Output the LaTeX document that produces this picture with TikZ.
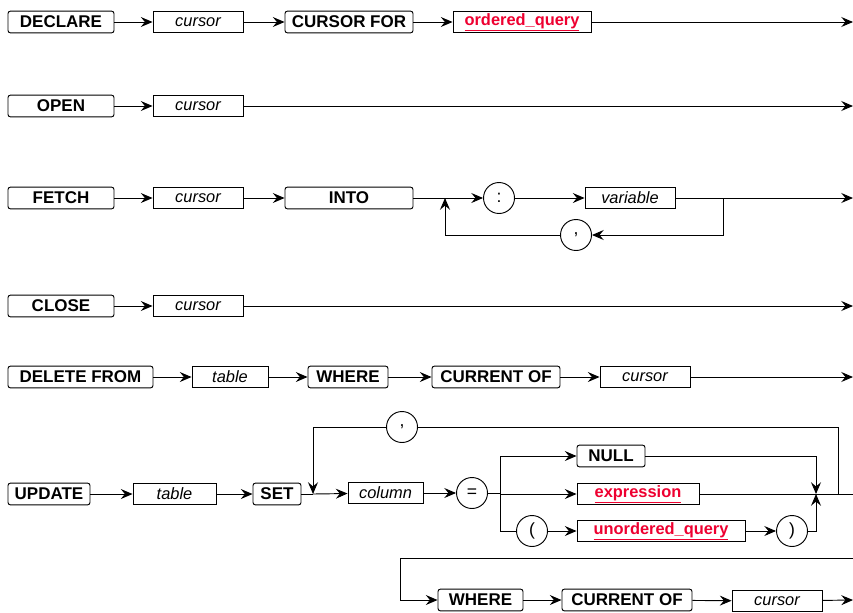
\documentclass[tikz,border=0pt]{standalone}
\usepackage{fontspec}
\setmainfont{Liberation Sans}
\usetikzlibrary{arrows.meta}
\definecolor{linkred}{RGB}{238,0,48}
\tikzset{
  kw/.style={draw,rounded corners=2pt,minimum height=0.65cm,inner sep=0pt,font=\fontsize{14.5}{17}\selectfont\bfseries},
  ph/.style={draw,minimum height=0.62cm,inner sep=0pt,font=\fontsize{14}{17}\selectfont\itshape},
  rf/.style={draw,minimum height=0.65cm,inner sep=0pt,text=linkred,font=\fontsize{14}{17}\selectfont\bfseries},
  tm/.style={draw,circle,minimum size=0.93cm,inner sep=0pt,font=\fontsize{15}{17}\selectfont},
  arr/.style={-{Stealth[length=10pt,width=8.5pt,inset=3.5pt]}},
}
\begin{document}
\begin{tikzpicture}[x=0.03cm,y=-0.03cm,line width=0.8pt]
    \useasboundingbox (0,0) rectangle (853,612);
    % DECLARE
    \node (decl) at (61,22) [kw,minimum width=3.18cm] {DECLARE};
    \node (cur1) at (198,22) [ph,minimum width=2.7cm] {cursor};
    \node (curfor) at (349,22) [kw,minimum width=3.84cm] {CURSOR FOR};
    \node (oquery) at (522,22) [rf,minimum width=4.14cm] {\underline{ordered\_query}};
    \coordinate (e1) at (853,22);
    \draw[arr] (decl) -- (cur1);
    \draw[arr] (cur1) -- (curfor);
    \draw[arr] (curfor) -- (oquery);
    \draw[arr] (oquery) -- (e1);
    % OPEN
    \node (open) at (61,106) [kw,minimum width=3.18cm] {OPEN};
    \node (cur2) at (198,106) [ph,minimum width=2.7cm] {cursor};
    \coordinate (e2) at (853,106);
    \draw[arr] (open) -- (cur2);
    \draw[arr] (cur2) -- (e2);
    % FETCH
    \node (fetch) at (61,198) [kw,minimum width=3.18cm] {FETCH};
    \node (cur3) at (198,198) [ph,minimum width=2.7cm] {cursor};
    \node (into) at (349,198) [kw,minimum width=3.84cm] {INTO};
    \coordinate (fj) at (445,198);
    \node (colon) at (499,198) [tm] {:};
    \node (var) at (630,198) [ph,minimum width=2.7cm] {variable};
    \coordinate (fr) at (723,198);
    \node (comma1) at (576,235) [tm] {,};
    \coordinate (e3) at (853,198);
    \draw[arr] (fetch) -- (cur3);
    \draw[arr] (cur3) -- (into);
    \draw (into) -- (fj);
    \draw[arr] (fj) -- (colon);
    \draw[arr] (colon) -- (var);
    \draw[arr] (var) -- (e3);
    \draw[arr] (fr) |- (comma1);
    \draw[arr] (comma1) -| (fj);
    % CLOSE
    \node (close) at (61,306) [kw,minimum width=3.18cm] {CLOSE};
    \node (cur4) at (198,306) [ph,minimum width=2.7cm] {cursor};
    \coordinate (e4) at (853,306);
    \draw[arr] (close) -- (cur4);
    \draw[arr] (cur4) -- (e4);
    % DELETE FROM
    \node (delfrom) at (80.5,377) [kw,minimum width=4.35cm] {DELETE FROM};
    \node (table1) at (230,377) [ph,minimum width=2.28cm] {table};
    \node (where1) at (348,377) [kw,minimum width=2.4cm] {WHERE};
    \node (curof1) at (496,377) [kw,minimum width=3.84cm] {CURRENT OF};
    \node (cur5) at (645,377) [ph,minimum width=2.7cm] {cursor};
    \coordinate (e5) at (853,377);
    \draw[arr] (delfrom) -- (table1);
    \draw[arr] (table1) -- (where1);
    \draw[arr] (where1) -- (curof1);
    \draw[arr] (curof1) -- (cur5);
    \draw[arr] (cur5) -- (e5);
    % UPDATE
    \node (update) at (49,494) [kw,minimum width=2.46cm] {UPDATE};
    \node (table2) at (174.5,494) [ph,minimum width=2.49cm] {table};
    \node (set) at (277,494) [kw,minimum width=1.44cm] {SET};
    \coordinate (uj) at (313,494);
    \node (column) at (385.5,493) [ph,minimum width=2.25cm] {column};
    \node (eq) at (472,493) [tm] {=};
    \coordinate (split) at (500,493);
    \node (null) at (611,456) [kw,minimum width=2.04cm] {NULL};
    \node (expr) at (638,494) [rf,minimum width=3.66cm] {\underline{expression}};
    \node (lpar) at (532,531) [tm] {(};
    \node (uquery) at (661,531) [rf,minimum width=5.04cm] {\underline{unordered\_query}};
    \node (rpar) at (792,531) [tm] {)};
    \coordinate (merge) at (816,494);
    \coordinate (uloop) at (838,494);
    \node (comma2) at (402,427) [tm] {,};
    \coordinate (e6) at (853,494);
    \draw[arr] (update) -- (table2);
    \draw[arr] (table2) -- (set);
    \draw (set) -- (uj);
    \draw[arr] (uj) -- (column);
    \draw[arr] (column) -- (eq);
    \draw (eq) -- (split);
    \draw[arr] (split) |- (null);
    \draw[arr] (split) -- (split |- expr) -- (expr);
    \draw (split) |- (lpar);
    \draw[arr] (lpar) -- (uquery);
    \draw[arr] (uquery) -- (rpar);
    \draw[arr] (null) -| (merge);
    \draw[arr] (rpar) -| (merge);
    \draw (expr) -- (e6);
    \draw (uloop) |- (comma2);
    \draw[arr] (comma2) -| (uj);
    % UPDATE continued
    \coordinate (w1) at (853,558);
    \coordinate (w2) at (400,558);
    \node (where2) at (480.5,600) [kw,minimum width=2.55cm] {WHERE};
    \node (curof2) at (627,600) [kw,minimum width=3.9cm] {CURRENT OF};
    \node (cur7) at (777,601) [ph,minimum width=2.7cm] {cursor};
    \coordinate (e7) at (853,600);
    \draw[arr] (w1) -- (w2) |- (where2);
    \draw[arr] (where2) -- (curof2);
    \draw[arr] (curof2) -- (cur7);
    \draw[arr] (cur7) -- (e7);
\end{tikzpicture}
\end{document}
